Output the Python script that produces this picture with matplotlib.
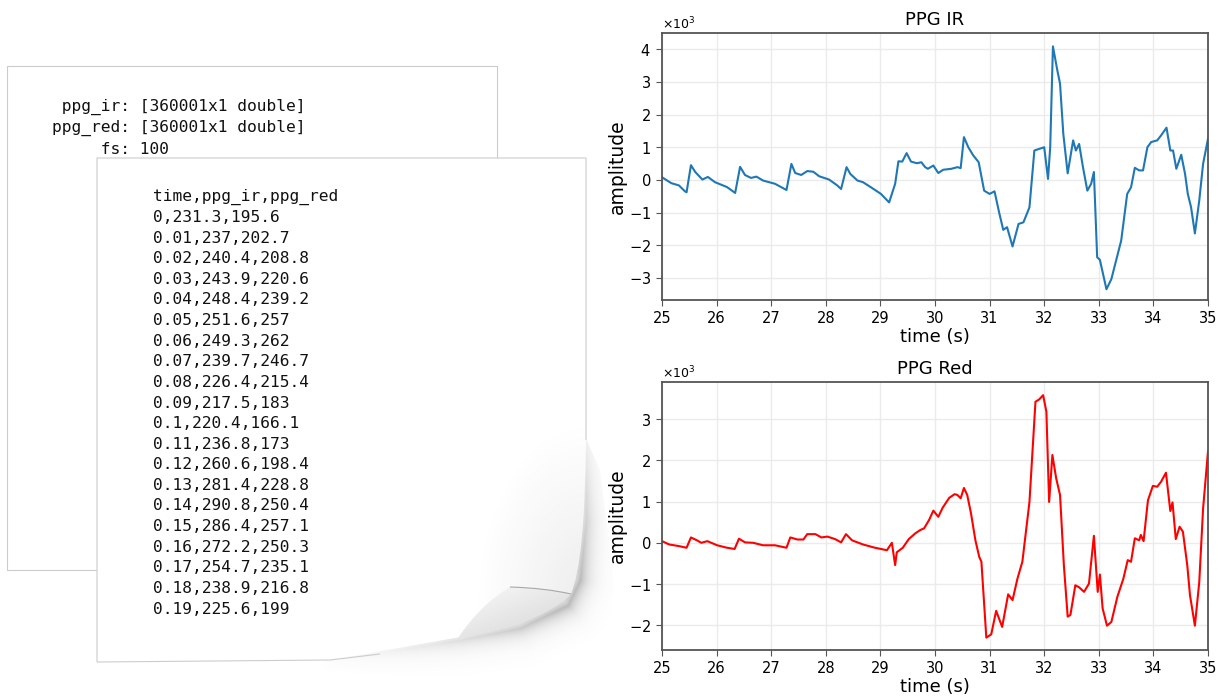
import numpy as np
import matplotlib.pyplot as plt
from matplotlib.path import Path
from matplotlib.patches import PathPatch, Rectangle
from matplotlib.ticker import MultipleLocator

# samples (time in s, amplitude)
ir_time = [25.0, 25.17, 25.31, 25.42, 25.45, 25.53, 25.61, 25.74, 25.84, 25.97,
           26.19, 26.34, 26.43, 26.52, 26.63, 26.73, 26.85, 27.07, 27.28, 27.37,
           27.44, 27.55, 27.66, 27.77, 27.88, 28.06, 28.21, 28.28, 28.38, 28.45,
           28.58, 28.68, 28.83, 29.01, 29.16, 29.27, 29.33, 29.40, 29.48, 29.56,
           29.67, 29.75, 29.82, 29.87, 29.97, 30.06, 30.15, 30.30, 30.41, 30.47,
           30.53, 30.61, 30.70, 30.80, 30.90, 31.00, 31.09, 31.18, 31.25, 31.32,
           31.42, 31.53, 31.62, 31.73, 31.82, 31.91, 32.00, 32.07, 32.11, 32.16,
           32.24, 32.29, 32.35, 32.43, 32.53, 32.58, 32.64, 32.71, 32.79, 32.86,
           32.91, 32.97, 33.02, 33.14, 33.23, 33.41, 33.52, 33.59, 33.66, 33.74,
           33.81, 33.89, 33.96, 34.07, 34.14, 34.24, 34.31, 34.36, 34.42, 34.51,
           34.58, 34.63, 34.69, 34.76, 34.84, 34.91, 35.0]
ir_amp = [80, -100, -170, -350, -380, 450, 240, 10, 90, -70,
          -220, -400, 400, 150, 60, 100, -20, -120, -310, 490,
          210, 150, 270, 250, 110, 10, -170, -280, 390, 180,
          -20, -70, -230, -430, -690, -120, 570, 560, 820, 560,
          510, 540, 390, 340, 440, 210, 310, 340, 390, 360,
          1310, 1000, 750, 540, -330, -430, -350, -1040, -1530, -1450,
          -2040, -1350, -1300, -840, 900, 950, 1000, 30, 1000, 4090,
          3360, 2950, 1410, 200, 1210, 900, 1100, 390, -330, -120,
          240, -2370, -2450, -3350, -3040, -1860, -430, -230, 370, 290,
          290, 1000, 1160, 1210, 1360, 1600, 900, 900, 340, 770,
          180, -430, -840, -1640, -630, 490, 1260]

red_time = [25.0, 25.13, 25.31, 25.45, 25.53, 25.64, 25.72, 25.83, 26.01, 26.19,
            26.33, 26.41, 26.52, 26.67, 26.85, 27.07, 27.28, 27.35, 27.48, 27.59,
            27.66, 27.81, 27.92, 28.03, 28.17, 28.28, 28.37, 28.48, 28.68, 28.90,
            29.12, 29.21, 29.27, 29.30, 29.41, 29.52, 29.64, 29.73, 29.80, 29.89,
            29.97, 30.06, 30.14, 30.26, 30.36, 30.41, 30.47, 30.53, 30.59, 30.66,
            30.74, 30.81, 30.85, 30.94, 31.03, 31.12, 31.23, 31.34, 31.42, 31.51,
            31.60, 31.73, 31.84, 31.91, 31.98, 32.04, 32.09, 32.15, 32.22, 32.29,
            32.36, 32.43, 32.48, 32.57, 32.64, 32.73, 32.82, 32.91, 32.98, 33.02,
            33.07, 33.15, 33.23, 33.34, 33.45, 33.53, 33.59, 33.66, 33.74, 33.77,
            33.82, 33.90, 33.99, 34.07, 34.14, 34.23, 34.31, 34.35, 34.41, 34.48,
            34.54, 34.62, 34.67, 34.76, 34.84, 34.91, 35.0]
red_amp = [40, -40, -80, -120, 130, 60, 0, 40, -60, -120,
           -150, 100, 10, 0, -60, -60, -120, 130, 80, 80,
           210, 210, 130, 150, 90, 10, 210, 60, -40, -120,
           -180, 0, -540, -230, -120, 90, 230, 310, 350, 550,
           780, 630, 850, 1090, 1180, 1160, 1080, 1330, 1160, 710,
           60, -340, -460, -2300, -2220, -1650, -2040, -1250, -1390, -870,
           -460, 990, 3420, 3480, 3580, 3180, 990, 2130, 1560, 1160,
           -540, -1790, -1750, -1030, -1080, -1190, -990, 170, -1190, -770,
           -1590, -2010, -1920, -1310, -870, -420, -460, 110, 60, 190,
           40, 1030, 1380, 1360, 1480, 1700, 770, 980, 90, 390,
           270, -540, -1270, -2010, -950, 830, 2220]

mat_lines = [" ppg_ir: [360001x1 double]",
             "ppg_red: [360001x1 double]",
             "     fs: 100"]
csv_lines = ["time,ppg_ir,ppg_red", "0,231.3,195.6", "0.01,237,202.7",
             "0.02,240.4,208.8", "0.03,243.9,220.6", "0.04,248.4,239.2",
             "0.05,251.6,257", "0.06,249.3,262", "0.07,239.7,246.7",
             "0.08,226.4,215.4", "0.09,217.5,183", "0.1,220.4,166.1",
             "0.11,236.8,173", "0.12,260.6,198.4", "0.13,281.4,228.8",
             "0.14,290.8,250.4", "0.15,286.4,257.1", "0.16,272.2,250.3",
             "0.17,254.7,235.1", "0.18,238.9,216.8", "0.19,225.6,199"]

W, H = 1227, 697
fig = plt.figure(figsize=(W / 100, H / 100), dpi=100)

# ---- left side: the two "pages", drawn in pixel coordinates ----
bg = fig.add_axes([0, 0, 1, 1])
bg.set_xlim(0, W)
bg.set_ylim(H, 0)
bg.axis('off')

bg.add_patch(Rectangle((7, 66), 490, 504, facecolor='white',
                       edgecolor='#cccccc', lw=0.8, zorder=1))
for i, s in enumerate(mat_lines):
    bg.text(52, 107 + i * 21, s, family='DejaVu Sans Mono', fontsize=11.7,
            va='center', ha='left', color='#111111', zorder=2)


def dist_to_polyline(x, y, pts):
    d = np.full(x.shape, np.inf)
    for (ax_, ay_), (bx_, by_) in zip(pts[:-1], pts[1:]):
        vx, vy = bx_ - ax_, by_ - ay_
        t = ((x - ax_) * vx + (y - ay_) * vy) / (vx * vx + vy * vy)
        t = np.clip(t, 0, 1)
        d = np.minimum(d, np.hypot(x - ax_ - t * vx, y - ay_ - t * vy))
    return d


# shadow under the curled corner
x0, x1, y0, y1 = 300, 625, 360, 680
gx, gy = np.meshgrid(np.arange(x0, x1), np.arange(y0, y1))
edge = [(586, 420), (586, 520), (580, 580), (568, 605), (520, 628), (460, 640), (330, 660)]
d = dist_to_polyline(gx, gy, edge)
alpha = 0.38 * np.exp(-d / 9.0)
alpha *= np.clip((gy - 400) / 180.0, 0, 1) * np.clip((gx - 300) / 260.0, 0, 1) ** 1.5
img = np.zeros(gx.shape + (4,))
img[..., :3] = 0.3
img[..., 3] = alpha
shadow_clip = PathPatch(Path([(560, 380), (600, 470), (614, 580), (612, 640),
                              (592, 667), (520, 678), (300, 672), (300, 640),
                              (560, 380)]), transform=bg.transData)
im = bg.imshow(img, extent=[x0, x1, y1, y0], origin='upper', aspect='auto',
               zorder=1.5, interpolation='bilinear')
im.set_clip_path(shadow_clip)

# front page with curled corner
M, L, C, Z = Path.MOVETO, Path.LINETO, Path.CURVE3, Path.CLOSEPOLY
page = Path([(97, 158), (586, 158), (586, 440), (585, 560), (571, 594),
             (540, 624), (460, 637), (330, 660), (97, 662), (97, 158)],
            [M, L, L, C, C, C, C, L, L, Z])
bg.add_patch(PathPatch(page, facecolor='white', edgecolor='none', zorder=2))
outline = Path([(380, 654), (330, 660), (97, 662), (97, 158), (586, 158), (586, 440)],
               [M, L, L, L, L, L])
bg.add_patch(PathPatch(outline, facecolor='none', edgecolor='#cccccc',
                       lw=0.8, zorder=2.1))

# faint shading on the page near the curl
sx0, sx1, sy0, sy1 = 430, 590, 380, 640
hx, hy = np.meshgrid(np.arange(sx0, sx1), np.arange(sy0, sy1))
dc = np.hypot((hx - 586) / 1.0, (hy - 600) / 1.6)
shade = np.zeros(hx.shape + (4,))
shade[..., :3] = 0.55
shade[..., 3] = 0.16 * np.clip(1 - dc / 110.0, 0, 1)
im2 = bg.imshow(shade, extent=[sx0, sx1, sy1, sy0], origin='upper',
                aspect='auto', zorder=2.2, interpolation='bilinear')
im2.set_clip_path(PathPatch(page, transform=bg.transData))

# the flap of the curl
flap = Path([(458, 638), (480, 605), (510, 587), (545, 588), (571, 594),
             (540, 624), (458, 638)], [M, C, C, C, C, C, C])
fx0, fx1, fy0, fy1 = 450, 575, 582, 642
qx, qy = np.meshgrid(np.arange(fx0, fx1), np.arange(fy0, fy1))
g = np.clip((qy - 588) / 50.0, 0, 1) * 0.5 + np.clip((qx - 450) / 125.0, 0, 1) * 0.5
flap_img = np.zeros(qx.shape + (3,))
flap_img[..., :] = (0.985 - 0.16 * g)[..., None]
im3 = bg.imshow(flap_img, extent=[fx0, fx1, fy1, fy0], origin='upper',
                aspect='auto', zorder=2.5, interpolation='bilinear')
im3.set_clip_path(PathPatch(flap, transform=bg.transData))
fold = Path([(510, 587), (545, 588), (571, 594)], [M, C, C])
bg.add_patch(PathPatch(fold, facecolor='none', edgecolor='#a8a8a8',
                       lw=0.8, zorder=2.6))

for i, s in enumerate(csv_lines):
    bg.text(153, 197 + i * 20.6, s, family='DejaVu Sans Mono', fontsize=11.7,
            va='center', ha='left', color='#111111', zorder=3)

# ---- right side: the two PPG traces ----
ax1 = fig.add_axes([662 / W, 1 - 300 / H, 546 / W, 267 / H])
ax2 = fig.add_axes([662 / W, 1 - 650 / H, 546 / W, 268 / H])

ax1.plot(ir_time, ir_amp, color='#1f77b4', lw=1.5)
ax1.set_ylim(-3680, 4500)
ax1.set_title('PPG IR', fontsize=13)

ax2.plot(red_time, red_amp, color='red', lw=1.5)
ax2.set_ylim(-2600, 3900)
ax2.set_title('PPG Red', fontsize=13)

for ax in (ax1, ax2):
    ax.set_xlim(25, 35)
    ax.xaxis.set_major_locator(MultipleLocator(1))
    ax.yaxis.set_major_locator(MultipleLocator(1000))
    ax.ticklabel_format(axis='y', style='sci', scilimits=(3, 3), useMathText=True)
    ax.yaxis.get_offset_text().set_fontsize(9)
    ax.grid(True, color='#ebebeb', lw=1)
    ax.set_axisbelow(True)
    for sp in ax.spines.values():
        sp.set_color('#555555')
        sp.set_linewidth(1.3)
    ax.tick_params(labelsize=10.5, color='#555555', length=4.5)
    ax.set_xlabel('time (s)', fontsize=13, labelpad=1)
    ax.set_ylabel('amplitude', fontsize=13.5, labelpad=1.5)

fig.savefig('out.png', dpi=100)
